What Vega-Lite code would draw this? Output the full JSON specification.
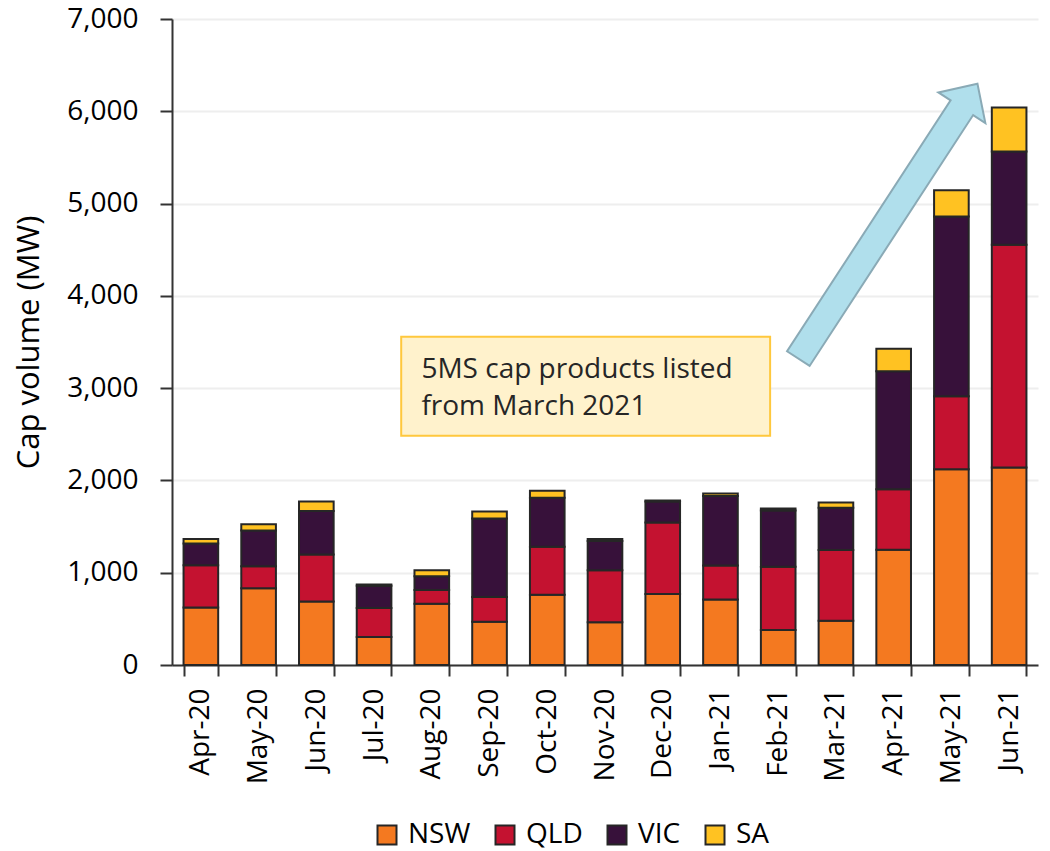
{
  "$schema": "https://vega.github.io/schema/vega-lite/v6.json",
  "autosize": {"type": "none"},
  "padding": {"left": 172, "top": 19, "right": 12, "bottom": 186},
  "width": 866,
  "height": 646,
  "background": "white",
  "config": {
    "font": "Open Sans",
    "view": {"stroke": null},
    "axis": {"labelFont": "Open Sans", "titleFont": "Open Sans", "labelColor": "#000000", "titleColor": "#000000"}
  },
  "datasets": {
    "cap": [
      {"month": "Apr-20", "NSW": 624, "QLD": 458, "VIC": 235, "SA": 47},
      {"month": "May-20", "NSW": 833, "QLD": 238, "VIC": 387, "SA": 68},
      {"month": "Jun-20", "NSW": 689, "QLD": 509, "VIC": 472, "SA": 101},
      {"month": "Jul-20", "NSW": 303, "QLD": 314, "VIC": 241, "SA": 15},
      {"month": "Aug-20", "NSW": 664, "QLD": 148, "VIC": 151, "SA": 65},
      {"month": "Sep-20", "NSW": 469, "QLD": 267, "VIC": 852, "SA": 75},
      {"month": "Oct-20", "NSW": 761, "QLD": 520, "VIC": 530, "SA": 76},
      {"month": "Nov-20", "NSW": 462, "QLD": 566, "VIC": 317, "SA": 19},
      {"month": "Dec-20", "NSW": 768, "QLD": 776, "VIC": 227, "SA": 11},
      {"month": "Jan-21", "NSW": 711, "QLD": 368, "VIC": 753, "SA": 26},
      {"month": "Feb-21", "NSW": 379, "QLD": 685, "VIC": 610, "SA": 22},
      {"month": "Mar-21", "NSW": 480, "QLD": 765, "VIC": 458, "SA": 58},
      {"month": "Apr-21", "NSW": 1248, "QLD": 657, "VIC": 1277, "SA": 245},
      {"month": "May-21", "NSW": 2121, "QLD": 790, "VIC": 1948, "SA": 285},
      {"month": "Jun-21", "NSW": 2140, "QLD": 2413, "VIC": 1010, "SA": 479}
    ],
    "box": [{"x1": 3.97, "x2": 10.36, "y1": 2485, "y2": 3557}],
    "note": [
      {"x": 4.32, "y": 3113, "text": "5MS cap products listed"},
      {"x": 4.32, "y": 2712, "text": "from March 2021"}
    ],
    "arrow": [{"x": 12.4, "y": 4809}]
  },
  "resolve": {"scale": {"x": "independent"}},
  "layer": [
    {
      "data": {"name": "cap"},
      "transform": [
        {"fold": ["NSW", "QLD", "VIC", "SA"], "as": ["state", "mw"]},
        {"window": [{"op": "row_number", "as": "stackIndex"}], "groupby": ["month"]}
      ],
      "mark": {"type": "bar", "stroke": "#262626", "strokeWidth": 2},
      "encoding": {
        "x": {
          "field": "month", "type": "nominal",
          "sort": ["Apr-20","May-20","Jun-20","Jul-20","Aug-20","Sep-20","Oct-20","Nov-20","Dec-20","Jan-21","Feb-21","Mar-21","Apr-21","May-21","Jun-21"],
          "scale": {"paddingInner": 0.4, "paddingOuter": 0.2},
          "axis": {
            "title": null, "labelAngle": -90, "labelFontSize": 28, "labelPadding": 12,
            "tickBand": "extent", "tickSize": 11, "tickColor": "#333333", "tickWidth": 2,
            "domainColor": "#333333", "domainWidth": 2, "labelAlign": "right", "labelBaseline": "middle"
          }
        },
        "y": {
          "field": "mw", "type": "quantitative", "stack": "zero",
          "scale": {"domain": [0, 7000], "nice": false},
          "axis": {
            "title": "Cap volume (MW)", "titleFontSize": 31, "titleFontWeight": "normal", "titlePadding": 21,
            "labelFontSize": 28, "labelPadding": 22, "labelExpr": "format(datum.value, ',')", "values": [0,1000,2000,3000,4000,5000,6000,7000],
            "tickSize": 12, "tickColor": "#333333", "tickWidth": 2,
            "domainColor": "#333333", "domainWidth": 2,
            "grid": true, "gridColor": "#eeeeee", "gridWidth": 2
          }
        },
        "order": {"field": "stackIndex", "type": "quantitative", "sort": "ascending"},
        "color": {
          "field": "state", "type": "nominal",
          "sort": ["NSW", "QLD", "VIC", "SA"],
          "scale": {"domain": ["NSW", "QLD", "VIC", "SA"], "range": ["#F47920", "#C41230", "#37113A", "#FFC222"]},
          "legend": {
            "title": null, "orient": "none", "direction": "horizontal",
            "legendX": 201, "legendY": 802,
            "symbolType": "square", "symbolSize": 361, "symbolStrokeColor": "#262626", "symbolStrokeWidth": 2,
            "labelFontSize": 28, "labelFont": "Open Sans", "labelColor": "#000000", "labelOffset": 7,
            "columnPadding": 20
          }
        }
      }
    },
    {
      "data": {"name": "box"},
      "mark": {"type": "rect", "fill": "#FFF2CC", "stroke": "#FFC83D", "strokeWidth": 2},
      "encoding": {
        "x": {"field": "x1", "type": "quantitative", "scale": {"domain": [0, 15], "nice": false, "zero": false}, "axis": null},
        "x2": {"field": "x2"},
        "y": {"field": "y1", "type": "quantitative"},
        "y2": {"field": "y2"}
      }
    },
    {
      "data": {"name": "note"},
      "mark": {"type": "text", "align": "left", "baseline": "alphabetic", "fontSize": 28, "font": "Open Sans", "color": "#262626"},
      "encoding": {
        "x": {"field": "x", "type": "quantitative", "scale": {"domain": [0, 15], "nice": false, "zero": false}, "axis": null},
        "y": {"field": "y", "type": "quantitative"},
        "text": {"field": "text"}
      }
    },
    {
      "data": {"name": "arrow"},
      "mark": {
        "type": "point", "filled": true, "opacity": 1,
        "shape": "M0,-1L0.171,-0.826L0.082,-0.826L0.082,1L-0.082,1L-0.082,-0.826L-0.171,-0.826Z",
        "size": 107584, "angle": 33.1,
        "fill": "#B0DFEC", "stroke": "#8AAAB6", "strokeWidth": 2
      },
      "encoding": {
        "x": {"field": "x", "type": "quantitative", "scale": {"domain": [0, 15], "nice": false, "zero": false}, "axis": null},
        "y": {"field": "y", "type": "quantitative"}
      }
    }
  ]
}
